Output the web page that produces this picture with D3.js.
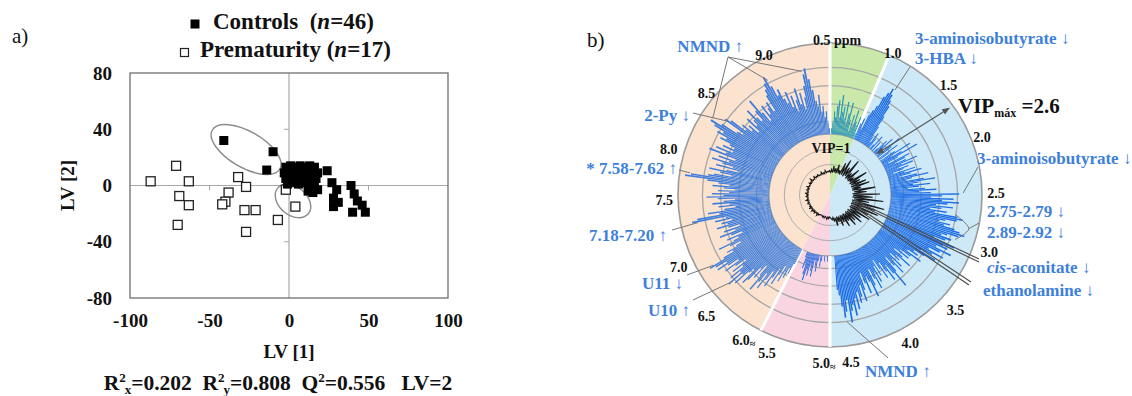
<!DOCTYPE html>
<html>
<head>
<meta charset="utf-8">
<script src="https://cdn.jsdelivr.net/npm/d3@7/dist/d3.min.js"></script>
<style>
html,body{margin:0;padding:0;background:#fff;}
svg{display:block;font-family:"Liberation Serif","Times New Roman",Times,serif;}
</style>
</head>
<body>
<svg id="chart" width="1132" height="396"></svg>
<script>
// ================= DATA: panel a (PLS-DA scores) =================
const controlsX = [-41,-10,-14,
  -2,1,4,7,10,13,16,
  -3,0,3,6,9,12,15,18,
  -2,1,4,8,11,14,17,
  -1,2,6,10,13,16,
  12,15,18,
  24,27,30,28,28,31,39,41,43,46,40,48];
const controlsY = [32,24,11,
  13,14,13,14,13,14,13,
  9,10,9,10,9,10,9,9,
  5,5,6,5,6,4,5,
  1,2,1,2,0,0,
  -4,-5,-3,
  10.5,2,-3,-9,-15,-12,0,-6,-11,-14,-19,-19];
const prematurityX = [-87,-71,-63,-32,-27,-38,-69,-63,-70,-40,-42,-28,-21,-27,-7,-2,4];
const prematurityY = [3,14,3,6,-1,-5,-7.5,-14,-28,-11.5,-13.4,-17.5,-17.5,-33,-24.5,-3,-15];
const xTicks = [-100,-50,0,50,100];
const yTicks = [-80,-40,0,40,80];
const xMinorTicks = [-50,50];
const yMinorTicks = [-40,40];

// ================= DATA: panel b (VIP radial plot) =================
// ppm axis knots (angle in degrees, clockwise from top)
const axisPPM = [0.5,1.0,1.5,2.0,2.5,3.0,3.5,4.0,4.5,5.0,5.5,6.0,6.5,7.0,7.5,8.0,8.5,9.0,9.5];
const axisDeg = [0,23,46,68,90,110,132,153,176,180,202,207,226,245,267,287,310,335,360];
const ppmTicks = [0.5,1.0,1.5,2.0,2.5,3.0,3.5,4.0,4.5,5.0,5.5,6.0,6.5,7.0,7.5,8.0,8.5,9.0];
const ppmTickText = ["0.5 ppm","1.0","1.5","2.0","2.5","3.0","3.5","4.0","4.5","5.0","5.5","6.0","6.5","7.0","7.5","8.0","8.5","9.0"];
const ringVIP = [0.5,0.75,1.0,1.22,1.53,1.85,2.17];
const vipMax = 2.6;
const binWidth = 0.02;
// VIP per 0.02 ppm bin
const vipGreen = [0.9,1.1,1.2,1.4,1.3,1.5,1.6,1.3,1.7,1.4, 1.5,1.3,1.6,1.2,1.4,1.6,1.3,1.1,1.4,1.2, 1.5,1.3,1.2,1.4,1.1]; // 0.50–0.98
const vipBlue = [ // 1.00–4.48
  1.3,1.4,1.2,1.5,1.6,1.7,1.9,2.0,2.1,2.0,
  1.9,1.8,1.6,1.4,1.2,1.1,1.3,1.2,0.9,1.1,
  1.3,1.0,1.2,0.9,1.1,1.3,1.2,1.4,0.9,1.1,
  1.5,1.3,1.0,1.4,1.2,0.9,1.3,1.6,1.2,1.4,
  1.7,1.3,1.1,1.5,1.4,1.2,1.4,1.6,1.3,1.5,
  1.2,1.4,1.3,1.1,1.5,1.3,1.6,1.4,1.2,1.5,
  1.7,1.4,1.3,1.6,1.8,1.5,1.4,1.7,1.5,1.3,
  1.6,1.8,1.5,1.7,2.2,1.9,1.7,2.1,1.9,2.2,
  2.0,1.8,2.1,1.9,1.7,2.0,1.8,2.2,2.3,2.2,
  2.0,1.9,2.1,2.0,2.2,2.3,2.4,2.3,2.1,2.0,
  2.2,2.1,1.9,2.3,2.1,2.2,2.0,2.3,2.1,1.9,
  2.2,2.0,1.8,2.1,1.9,1.7,1.8,1.6,1.9,1.7,
  1.5,1.7,1.4,1.6,1.8,1.5,1.6,1.4,1.7,1.5,
  1.8,1.6,1.4,1.7,2.0,1.7,1.5,1.8,1.6,1.4,
  1.7,1.5,1.3,1.6,1.4,1.7,1.5,1.8,1.6,1.4,
  1.7,1.9,1.6,1.5,1.8,1.6,1.4,1.7,1.9,1.6,
  1.8,1.9,1.7,2.0,1.8,2.1,1.9,2.0,2.2,1.8,
  2.0,2.1,1.9,1.7,1.6];
const vipPink = [0.9,1.0,1.1,0.9,1.0,1.1,1.0,0.9,1.1,1.2, 1.0,1.1,1.3,1.2,1.1,1.4,1.3,1.2,1.4,1.3, 1.5,1.4,1.2,1.3,1.1]; // 5.00–5.48
const vipPeach = [ // 6.00–9.48
  1.3,1.5,1.4,1.6,1.5,1.7,1.4,1.6,1.8,1.5,
  1.7,1.9,1.6,1.8,2.0,1.7,1.9,2.1,1.8,1.6,
  1.9,1.7,2.0,2.1,1.8,1.9,2.2,2.0,2.3,2.0,
  2.2,1.9,2.1,1.8,2.0,2.2,1.9,2.1,2.3,2.1,
  2.3,2.4,2.1,1.9,2.0,1.8,1.7,1.9,2.1,1.8,
  1.7,1.9,1.6,1.8,2.0,1.7,1.9,1.6,1.8,2.0,
  1.8,1.9,1.7,2.0,1.8,2.4,2.3,1.9,2.1,1.8,
  1.6,1.9,1.7,2.0,1.8,1.6,1.9,2.1,1.8,2.0,
  1.7,1.9,1.6,1.8,2.0,1.7,1.9,2.1,2.5,2.4,
  2.1,2.0,1.7,1.9,2.1,1.8,1.6,2.0,1.7,1.9,
  2.1,1.8,2.0,1.7,2.2,1.9,2.1,1.8,2.0,1.8,
  1.9,2.1,2.0,2.2,2.1,2.3,2.4,2.2,1.9,1.8,
  2.2,2.1,1.8,1.9,1.7,1.8,1.6,1.9,1.7,1.8,
  2.0,1.8,1.7,1.9,2.1,1.8,1.6,1.9,1.7,1.8,
  1.9,1.7,2.0,2.1,2.2,2.3,2.1,1.9,2.0,1.8,
  1.7,1.9,1.6,1.8,1.5,1.7,1.9,1.6,1.8,1.5,
  1.7,1.9,2.1,2.2,2.0,1.8,1.6,1.5,1.7,1.4,
  1.5,1.3,1.4,1.2,1.1];
// inner black VIP trace, 0.05 ppm steps
const innerStep = 0.05;
const innerAli = [
  0.37,0.42,0.37,0.48,0.38,0.45,0.37,0.52,0.38,0.44,
  0.37,0.58,0.38,0.66,0.37,0.55,0.40,0.72,0.37,0.50,
  0.38,0.62,0.37,0.48,0.39,0.70,0.37,0.55,0.38,0.64,
  0.37,0.68,0.38,0.52,0.37,0.75,0.40,0.60,0.37,0.82,
  0.38,0.70,0.37,0.88,0.40,0.65,0.37,0.92,0.38,0.78,
  0.37,0.85,0.38,0.70,0.37,0.76,0.40,0.62,0.37,0.68,
  0.38,0.58,0.37,0.64,0.39,0.52,0.37,0.60,0.38,0.50,
  0.37,0.55,0.38,0.47,0.37,0.52,0.38,0.44,0.37,0.41]; // 0.50–4.45
const innerPink = [0.36,0.39,0.36,0.40,0.37,0.36,0.39,0.36,0.38,0.36]; // 5.00–5.45
const innerPeach = [ // 6.00–9.45
  0.36,0.38,0.36,0.40,0.36,0.37,0.36,0.39,0.36,0.38,
  0.36,0.40,0.36,0.37,0.36,0.41,0.36,0.38,0.36,0.37,
  0.36,0.39,0.36,0.38,0.36,0.40,0.36,0.37,0.36,0.39,
  0.36,0.38,0.36,0.41,0.36,0.37,0.36,0.39,0.36,0.38,
  0.36,0.40,0.36,0.37,0.36,0.39,0.36,0.38,0.36,0.41,
  0.36,0.37,0.36,0.40,0.36,0.38,0.36,0.39,0.36,0.37,
  0.36,0.40,0.36,0.38,0.36,0.41,0.37,0.39,0.38,0.40];

// ================= DRAWING =================
const SERIF = '"Liberation Serif","Times New Roman",Times,serif';
const svg = d3.select('#chart');
const defs = svg.append('defs');
defs.append('marker').attr('id','arrowHead').attr('viewBox','0 0 10 10')
  .attr('refX',9).attr('refY',5).attr('markerWidth',7).attr('markerHeight',7)
  .attr('orient','auto-start-reverse')
  .append('path').attr('d','M0,1L10,5L0,9z').attr('fill','#555');

// ---------- panel a ----------
const xA = d3.scaleLinear().domain([-100,100]).range([130,448]);
const yA = d3.scaleLinear().domain([-80,80]).range([298,73]);
const A = svg.append('g');

A.append('text').attr('x',12).attr('y',43).attr('font-size',21).attr('fill','#111').text('a)');

// zero lines
A.append('line').attr('x1',xA(-100)).attr('x2',xA(100)).attr('y1',yA(0)).attr('y2',yA(0)).attr('stroke','#a8a8a8').attr('stroke-width',1.2);
A.append('line').attr('x1',xA(0)).attr('x2',xA(0)).attr('y1',yA(-80)).attr('y2',yA(80)).attr('stroke','#a8a8a8').attr('stroke-width',1.2);
A.selectAll('line.xm').data(xMinorTicks).join('line').attr('class','xm')
  .attr('x1',d=>xA(d)).attr('x2',d=>xA(d)).attr('y1',yA(0)).attr('y2',yA(0)+5).attr('stroke','#a8a8a8');
A.selectAll('line.ym').data(yMinorTicks).join('line').attr('class','ym')
  .attr('x1',xA(0)-5).attr('x2',xA(0)).attr('y1',d=>yA(d)).attr('y2',d=>yA(d)).attr('stroke','#a8a8a8');
// frame
A.append('rect').attr('x',xA(-100)).attr('y',yA(80)).attr('width',xA(100)-xA(-100)).attr('height',yA(-80)-yA(80))
  .attr('fill','none').attr('stroke','#6e6e6e').attr('stroke-width',1.3);

const axY = A.append('g').attr('transform',`translate(${xA(-100)},0)`)
  .call(d3.axisLeft(yA).tickValues(yTicks).tickSize(0).tickPadding(18).tickFormat(d=>String(d)));
const axX = A.append('g').attr('transform',`translate(0,${yA(-80)})`)
  .call(d3.axisBottom(xA).tickValues(xTicks).tickSize(0).tickPadding(16).tickFormat(d=>String(d)));
[axY,axX].forEach(ax=>{
  ax.select('.domain').remove();
  ax.selectAll('text').attr('font-family',SERIF).attr('font-size',19).attr('font-weight','bold').attr('fill','#111');
});

// ellipses (annotation)
const ellipses = [{x:-27,y:25.6,rx:39,ry:18,rot:30},{x:2.5,y:-11,rx:20,ry:14,rot:40}];
A.selectAll('ellipse').data(ellipses).join('ellipse')
  .attr('transform',d=>`translate(${xA(d.x)},${yA(d.y)}) rotate(${d.rot})`)
  .attr('rx',d=>d.rx).attr('ry',d=>d.ry).attr('fill','none').attr('stroke','#8c8c8c').attr('stroke-width',1.4);

const sq = 9;
A.selectAll('rect.pre').data(d3.range(prematurityX.length)).join('rect').attr('class','pre')
  .attr('x',i=>xA(prematurityX[i])-sq/2).attr('y',i=>yA(prematurityY[i])-sq/2)
  .attr('width',sq).attr('height',sq).attr('fill','#fff').attr('stroke','#222').attr('stroke-width',1.3);
A.selectAll('rect.ctl').data(d3.range(controlsX.length)).join('rect').attr('class','ctl')
  .attr('x',i=>xA(controlsX[i])-sq/2).attr('y',i=>yA(controlsY[i])-sq/2)
  .attr('width',sq).attr('height',sq).attr('fill','#000');

// legend
A.append('rect').attr('x',190.5).attr('y',19.5).attr('width',9).attr('height',9).attr('fill','#000');
const l1 = A.append('text').attr('x',213).attr('y',29).attr('font-size',23).attr('font-weight','bold').attr('fill','#111');
l1.append('tspan').text('Controls\u00a0\u00a0(');
l1.append('tspan').attr('font-style','italic').text('n');
l1.append('tspan').text('=46)');
A.append('rect').attr('x',180.5).attr('y',48.5).attr('width',8).attr('height',8).attr('fill','#fff').attr('stroke','#222').attr('stroke-width',1.2);
const l2 = A.append('text').attr('x',200).attr('y',57).attr('font-size',23).attr('font-weight','bold').attr('fill','#111');
l2.append('tspan').text('Prematurity (');
l2.append('tspan').attr('font-style','italic').text('n');
l2.append('tspan').text('=17)');

// axis titles
A.append('text').attr('x',xA(0)).attr('y',358).attr('text-anchor','middle').attr('font-size',19).attr('font-weight','bold').attr('fill','#111').text('LV [1]');
A.append('text').attr('transform',`translate(74,${yA(0)}) rotate(-90)`).attr('text-anchor','middle').attr('font-size',19).attr('font-weight','bold').attr('fill','#111').text('LV [2]');

// stats line
const st = A.append('text').attr('x',278).attr('y',390).attr('text-anchor','middle').attr('font-size',21.5).attr('font-weight','bold').attr('fill','#111');
function r2(t, sub){
  t.append('tspan').text('R');
  t.append('tspan').attr('font-size',13).attr('dy',-8).text('2');
  t.append('tspan').attr('font-size',13).attr('dx',-1).attr('dy',12).text(sub);
}
r2(st,'x');
st.append('tspan').attr('dy',-4).text('=0.202\u00a0\u00a0');
r2(st,'y');
st.append('tspan').attr('dy',-4).text('=0.808\u00a0\u00a0Q');
st.append('tspan').attr('font-size',13).attr('dy',-8).text('2');
st.append('tspan').attr('dy',8).text('=0.556\u00a0\u00a0\u00a0LV=2');

// ---------- panel b ----------
const cx = 830, cy = 195;
const ang = d3.scaleLinear().domain(axisPPM).range(axisDeg.map(d=>d*Math.PI/180));
const rad = d3.scaleLinear().domain([0,1,vipMax]).range([0,61,152]);
const pt = (ppm,v)=>{const a=ang(ppm), r=rad(v); return [cx + r*Math.sin(a), cy - r*Math.cos(a)];};
const B = svg.append('g');
const P = B.append('g').attr('transform',`translate(${cx},${cy})`);

B.append('text').attr('x',587).attr('y',47).attr('font-size',21).attr('fill','#111').text('b)');

// sectors
const sectorFrom = [0.5,1.0,5.0,6.0], sectorTo = [1.0,5.0,6.0,9.5];
const sectorFill = ['#c9e8aa','#cde9f7','#f9d5e2','#fce3d0'];
const barFill = ['#2e98b6','#1f6fe6','#2f6ddf','#3d7ddc'];
P.selectAll('path.sec').data(d3.range(4)).join('path').attr('class','sec')
  .attr('d',i=>d3.arc()({innerRadius:0,outerRadius:rad(vipMax),startAngle:ang(sectorFrom[i]),endAngle:ang(sectorTo[i])}))
  .attr('fill',i=>sectorFill[i]);

// rings
P.selectAll('circle.ring').data(ringVIP).join('circle').attr('class','ring')
  .attr('r',d=>rad(d)).attr('fill','none').attr('stroke','#a6a6a6').attr('stroke-width',d=>d<1?0.9:1.3);
P.append('circle').attr('r',rad(vipMax)).attr('fill','none').attr('stroke','#9a9a9a').attr('stroke-width',1.6);

// white separators
P.selectAll('line.sep').data(sectorFrom).join('line').attr('class','sep')
  .attr('x1',d=>rad(1)*Math.sin(ang(d))).attr('y1',d=>-rad(1)*Math.cos(ang(d)))
  .attr('x2',d=>rad(vipMax)*Math.sin(ang(d))).attr('y2',d=>-rad(vipMax)*Math.cos(ang(d)))
  .attr('stroke','#fff').attr('stroke-width',3);

// bars
const regions = [
  {start:0.50, vals:vipGreen, c:0},
  {start:1.00, vals:vipBlue, c:1},
  {start:5.00, vals:vipPink, c:2},
  {start:6.00, vals:vipPeach, c:3}];
const bins = [];
regions.forEach(rg=>rg.vals.forEach((v,i)=>{ if(v>1) bins.push({p:+(rg.start+i*binWidth).toFixed(2), v, c:rg.c}); }));
const pad = 0.07*Math.PI/180;
const barArc = d3.arc().innerRadius(rad(1)).outerRadius(d=>rad(d.v))
  .startAngle(d=>ang(d.p)+pad).endAngle(d=>ang(d.p+binWidth)-pad);
P.selectAll('path.bar').data(bins).join('path').attr('class','bar')
  .attr('d',barArc).attr('fill',d=>barFill[d.c]);

// inner black trace
const innerPts = [];
[[0.50,innerAli],[5.00,innerPink],[6.00,innerPeach]].forEach(([s,arr])=>arr.forEach((v,i)=>innerPts.push({p:s+i*innerStep+innerStep/2, v})));
P.append('path').attr('d',d3.lineRadial().angle(d=>ang(d.p)).radius(d=>rad(d.v)).curve(d3.curveLinearClosed)(innerPts))
  .attr('fill','none').attr('stroke','#1a1a1a').attr('stroke-width',1.1);

// VIP=1 label
B.append('text').attr('x',cx+1).attr('y',153).attr('text-anchor','middle').attr('font-size',14).attr('font-weight','bold').attr('fill','#111').text('VIP=1');

// ppm tick labels
const tickNudge = {"0.5 ppm":[7,1],"1.0":[0,6],"1.5":[0,5],"2.0":[-3,5],"2.5":[-2,-2],"3.0":[2,0],"3.5":[3,5],"4.0":[7,5],"4.5":[10,11],"5.0":[-6,12],"5.5":[-3,10],"6.0":[-13,1],"6.5":[-5,7],"7.0":[0,2],"7.5":[2,-3],"8.0":[-1,3],"8.5":[3,5],"9.0":[2,6]};
ppmTicks.forEach((p,i)=>{
  const a = ang(p);
  const rl = 156 + 12*Math.abs(Math.sin(a));
  const txt = ppmTickText[i];
  const nd = tickNudge[txt]||[0,0];
  const t = B.append('text').attr('x',cx + rl*Math.sin(a) + nd[0]).attr('y',cy - rl*Math.cos(a) + nd[1])
    .attr('text-anchor','middle').attr('dominant-baseline','central')
    .attr('font-size',14).attr('font-weight','bold').attr('fill','#111');
  if(txt==='5.0'||txt==='6.0'){
    t.append('tspan').text(txt);
    t.append('tspan').attr('font-size',10).attr('dy',3).text('\u2248');
  } else t.text(txt);
});

// leader lines
const leaders = [
  {x:728,y:57,ppm:9.24,vip:2.16},
  {x:728,y:57,ppm:8.93,vip:2.22},
  {x:728,y:57,ppm:8.35,vip:2.39},
  {x:693,y:113,ppm:8.41,vip:2.14},
  {x:679,y:170,ppm:7.80,vip:2.42},
  {x:672,y:230,ppm:7.30,vip:2.30},
  {x:687,y:275,ppm:6.84,vip:2.32},
  {x:693,y:300,ppm:6.57,vip:2.25},
  {x:910,y:67,ppm:1.19,vip:2.10},
  {x:978,y:167,ppm:2.48,vip:2.27},
  {x:888,y:358,ppm:4.42,vip:2.18},
  {x:979,y:259,ppm:2.80,vip:0.40,dark:1},
  {x:979,y:262,ppm:2.92,vip:0.40,dark:1},
  {x:971,y:282,ppm:3.02,vip:0.40,dark:1},
  {x:969,y:285,ppm:3.12,vip:0.38,dark:1}];
B.selectAll('line.lead').data(leaders).join('line').attr('class','lead')
  .attr('x1',d=>d.x).attr('y1',d=>d.y).attr('x2',d=>pt(d.ppm,d.vip)[0]).attr('y2',d=>pt(d.ppm,d.vip)[1])
  .attr('stroke',d=>d.dark?'#4a4a4a':'#777').attr('stroke-width',d=>d.dark?1.1:1);
// bracket for 2.75–2.92
const br = [pt(2.72,2.15), pt(2.84,2.44), pt(2.99,2.26)];
B.append('path').attr('d',d3.line().curve(d3.curveCardinal)(br)).attr('fill','none').attr('stroke','#777').attr('stroke-width',1);
B.append('line').attr('x1',br[1][0]).attr('y1',br[1][1]).attr('x2',979).attr('y2',223).attr('stroke','#777').attr('stroke-width',1);
// VIP max arrow
const a1 = pt(1.56,1.03), a2 = pt(1.68,2.52);
B.append('line').attr('x1',a1[0]).attr('y1',a1[1]).attr('x2',a2[0]).attr('y2',a2[1])
  .attr('stroke','#555').attr('stroke-width',1.1).attr('marker-start','url(#arrowHead)').attr('marker-end','url(#arrowHead)');

// metabolite labels
const BLUE = '#3d80dc';
const labels = [
  {t:'NMND \u2191',x:743,y:52,a:'end'},
  {t:'3-aminoisobutyrate \u2193',x:915,y:44,a:'start'},
  {t:'3-HBA \u2193',x:915,y:64,a:'start'},
  {t:'3-aminoisobutyrate \u2193',x:977,y:164,a:'start'},
  {t:'2.75-2.79 \u2193',x:987,y:217,a:'start'},
  {t:'2.89-2.92 \u2193',x:987,y:238,a:'start'},
  {t:'ethanolamine \u2193',x:983,y:296,a:'start'},
  {t:'NMND \u2191',x:865,y:377,a:'start'},
  {t:'2-Py \u2193',x:690,y:121,a:'end'},
  {t:'* 7.58-7.62 \u2191',x:677,y:174,a:'end'},
  {t:'7.18-7.20 \u2191',x:667,y:241,a:'end'},
  {t:'U11 \u2193',x:683,y:289,a:'end'},
  {t:'U10 \u2191',x:690,y:316,a:'end'}];
B.selectAll('text.met').data(labels).join('text').attr('class','met')
  .attr('x',d=>d.x).attr('y',d=>d.y).attr('text-anchor',d=>d.a)
  .attr('font-size',17).attr('font-weight','bold').attr('fill',BLUE).text(d=>d.t);
const cis = B.append('text').attr('x',987).attr('y',273).attr('font-size',17).attr('font-weight','bold').attr('fill',BLUE);
cis.append('tspan').attr('font-style','italic').text('cis');
cis.append('tspan').text('-aconitate \u2193');

// VIPmax label
const vm = B.append('text').attr('x',958).attr('y',113).attr('font-weight','bold').attr('fill','#111');
vm.append('tspan').attr('font-size',21).text('VIP');
vm.append('tspan').attr('font-size',12).attr('dy',4).text('máx');
vm.append('tspan').attr('font-size',21).attr('dy',-4).text(' =2.6');
</script>
</body>
</html>
